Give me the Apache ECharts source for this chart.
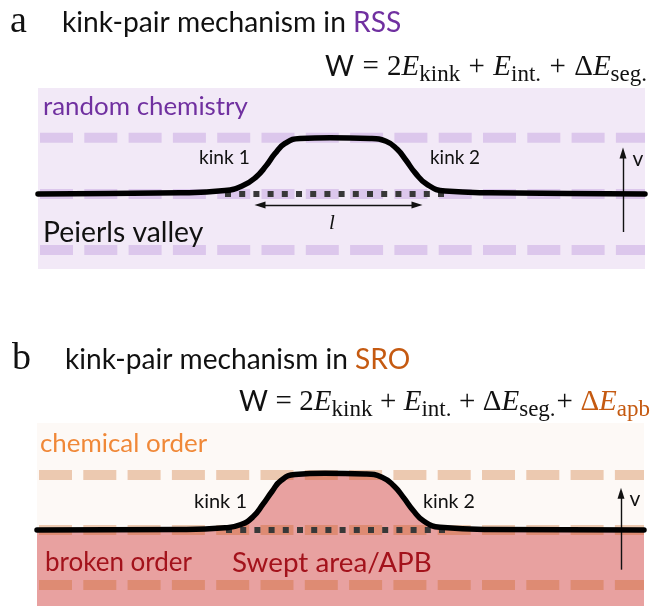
<!DOCTYPE html>
<html>
<head>
<meta charset="utf-8">
<script src="https://cdn.jsdelivr.net/npm/echarts@6/dist/echarts.min.js"></script>
<style>
  html, body { margin: 0; padding: 0; background: #fff; }
  #chart { width: 653px; height: 607px; }
</style>
</head>
<body>
<div id="chart"></div>
<script>
// dislocation line: position along the line, height in Peierls-valley units (0 = valley, 1 = next valley)
var kinkXa = [38, 180, 225, 243, 256, 266, 275, 285, 300, 330, 370, 386, 397, 406, 415, 427, 445, 490, 645];
var kinkYa = [0, 0.02, 0.06, 0.15, 0.3, 0.5, 0.72, 0.9, 0.99, 1.0, 0.99, 0.94, 0.8, 0.6, 0.38, 0.17, 0.05, 0.02, 0];
var kinkXb = [37, 180, 225, 241, 253, 263, 272, 281, 295, 325, 365, 382, 394, 404, 413, 424, 440, 490, 644];
var kinkYb = [0, 0.01, 0.04, 0.1, 0.24, 0.47, 0.7, 0.9, 1.01, 1.03, 1.02, 0.96, 0.8, 0.58, 0.36, 0.16, 0.05, 0.01, 0];
var valleys = [1, 0, -1];
var dotsA = [225, 447];
var dotsB = [226, 445];
var lenA = [260, 417, -0.2];     // kink separation l
var velA = [623, -0.68, 0.73];   // v arrow
var velB = [621, -0.72, 0.67];

var SANS = 'Lato', SERIF = 'Liberation Serif', LETTER = 'Liberation Serif';
var ctx = document.createElement('canvas').getContext('2d');
function measure(t, size, fam, ital) {
  ctx.font = (ital ? 'italic ' : '') + size + 'px ' + fam;
  return ctx.measureText(t).width;
}
function fit(t, fam, w, ital) {
  return Math.round(1000 * w / measure(t, 100, fam, ital)) / 10;
}
function txt(t, x, y, w, color, fam) {
  fam = fam || SANS;
  return { type: 'text', x: x, y: y, z: 10, silent: true,
    style: { text: t, fill: color || '#111', fontFamily: fam, fontSize: fit(t, fam, w), verticalAlign: 'middle' } };
}

// W = 2E_kink + ... as rich text, operators padded to fill the measured width
function formula(parts, right, y, width, F) {
  var S = Math.round(F * 0.78);
  var base = {
    w: { fontFamily: SANS, fontSize: F - 1, fill: '#111' },
    m: { fontFamily: SERIF, fontSize: F, fill: '#111' },
    e: { fontFamily: SERIF, fontSize: F, fill: '#111', fontStyle: 'italic' },
    s: { fontFamily: SERIF, fontSize: S, fill: '#111', lineHeight: 20, padding: [15, 0, 0, 0] },
    op: { fontFamily: SERIF, fontSize: F, fill: '#111' },
    opt: { fontFamily: SERIF, fontSize: F, fill: '#111' },
    om: { fontFamily: SERIF, fontSize: F, fill: '#c55a11' },
    oe: { fontFamily: SERIF, fontSize: F, fill: '#c55a11', fontStyle: 'italic' },
    os: { fontFamily: SERIF, fontSize: S, fill: '#c55a11', lineHeight: 20, padding: [15, 0, 0, 0] }
  };
  var sum = 0, units = 0, str = '';
  parts.forEach(function (p) {
    var st = base[p[1]];
    sum += measure(p[0], st.fontSize, st.fontFamily, st.fontStyle);
    units += p[1] === 'op' ? 2 : p[1] === 'opt' ? 1 : 0;
    str += '{' + p[1] + '|' + p[0] + '}';
  });
  var pad = Math.max(2, (width - sum) / units);
  base.op.padding = [0, pad, 0, pad];
  base.opt.padding = [0, pad, 0, 1];
  Object.keys(base).forEach(function (k) { if (!base[k].lineHeight) base[k].lineHeight = 38; });
  return { type: 'text', x: right, y: y, z: 10, silent: true,
    style: { text: str, align: 'right', verticalAlign: 'middle', rich: base } };
}

var partsA = [['W', 'w'], ['=', 'op'], ['2', 'm'], ['E', 'e'], ['kink', 's'], ['+', 'op'], ['E', 'e'], ['int.', 's'],
  ['+', 'op'], ['Δ', 'm'], ['E', 'e'], ['seg.', 's']];
var partsB = partsA.concat([['+', 'opt'], ['Δ', 'om'], ['E', 'oe'], ['apb', 'os']]);

function pts(xs, ys) { return xs.map(function (x, i) { return [x, ys[i]]; }); }
function row(g, y, x0, x1, color, z) {
  return { type: 'line', xAxisIndex: g, yAxisIndex: g, data: [[x0, y], [x1, y]], symbol: 'none', silent: true, z: z,
    lineStyle: { color: color, width: 10, type: [33, 11.3], cap: 'butt' } };
}
function curve(g, xs, ys) {
  return { type: 'line', xAxisIndex: g, yAxisIndex: g, data: pts(xs, ys), smooth: 0.5,
    symbol: 'none', silent: true, z: 6, lineStyle: { color: '#000', width: 5.5, cap: 'round', join: 'round' } };
}
function dots(g, d, vel, extra) {
  var ml = [[{ coord: [vel[0], vel[1]], symbol: 'none' }, { coord: [vel[0], vel[2]] }]].concat(extra || []);
  return { type: 'line', xAxisIndex: g, yAxisIndex: g, data: [[d[0], 0], [d[1], 0]], symbol: 'none', silent: true, z: 5,
    lineStyle: { color: '#383838', width: 6, type: [6, 8.2], cap: 'butt' },
    markLine: { silent: true, symbol: ['triangle', 'triangle'], symbolSize: [7, 11], label: { show: false },
      lineStyle: { color: '#111', width: 1.4, type: 'solid' }, data: ml } };
}

var series = [];
valleys.forEach(function (v) { series.push(row(0, v, 40, 645, '#dcc7ec', 3)); });
series.push(curve(0, kinkXa, kinkYa));
series.push(dots(0, dotsA, velA, [[{ coord: [lenA[0], lenA[2]] }, { coord: [lenA[1], lenA[2]] }]]));
// swept (APB) area in b: everything below the line
series.push({ type: 'line', xAxisIndex: 1, yAxisIndex: 1, data: pts(kinkXb, kinkYb), smooth: 0.5,
  symbol: 'none', silent: true, z: 2, lineStyle: { width: 0 }, areaStyle: { color: '#e8a1a0', opacity: 1, origin: 'start' } });
valleys.forEach(function (v) { series.push(row(1, v, 39, 644, 'rgba(200,89,13,0.3)', 3)); });
series.push(curve(1, kinkXb, kinkYb));
series.push(dots(1, dotsB, velB));

var chart = echarts.init(document.getElementById('chart'));
chart.setOption({
  animation: false,
  grid: [
    { left: 38, top: 88, width: 607, height: 181, show: true, backgroundColor: '#f2e9f7', borderWidth: 0 },
    { left: 37, top: 423, width: 607, height: 183, show: true, backgroundColor: '#fdf9f6', borderWidth: 0 }
  ],
  xAxis: [
    { gridIndex: 0, type: 'value', min: 38, max: 645, show: false },
    { gridIndex: 1, type: 'value', min: 37, max: 644, show: false }
  ],
  yAxis: [
    { gridIndex: 0, type: 'value', min: -1.34, max: 1.89, show: false },
    { gridIndex: 1, type: 'value', min: -1.38, max: 1.945, show: false }
  ],
  series: series,
  graphic: [
    { type: 'text', x: 10, y: 22, z: 10, silent: true, style: { text: 'a', fontFamily: LETTER, fontSize: 38, fill: '#111', verticalAlign: 'middle' } },
    { type: 'text', x: 62, y: 23, z: 10, silent: true, style: { text: 'kink-pair mechanism in {p|RSS}', fontFamily: SANS,
      fontSize: fit('kink-pair mechanism in RSS', SANS, 340), fill: '#111', verticalAlign: 'middle',
      rich: { p: { fill: '#7030a0', fontFamily: SANS, fontSize: fit('kink-pair mechanism in RSS', SANS, 340) } } } },
    formula(partsA, 647, 67, 322, 29),
    txt('random chemistry', 43, 107, 205, '#7030a0'),
    txt('kink 1', 199, 158, 51),
    txt('kink 2', 430, 158, 50),
    txt('Peierls valley', 43, 233, 160),
    { type: 'text', x: 332, y: 223, z: 10, silent: true, style: { text: 'l', fontFamily: SERIF, fontStyle: 'italic', fontSize: 21, fill: '#111', align: 'center', verticalAlign: 'middle' } },
    { type: 'text', x: 638, y: 159, z: 10, silent: true, style: { text: 'v', fontFamily: SANS, fontSize: 21, fill: '#111', align: 'center', verticalAlign: 'middle' } },

    { type: 'text', x: 12, y: 359, z: 10, silent: true, style: { text: 'b', fontFamily: LETTER, fontSize: 38, fill: '#111', verticalAlign: 'middle' } },
    { type: 'text', x: 65, y: 360, z: 10, silent: true, style: { text: 'kink-pair mechanism in {p|SRO}', fontFamily: SANS,
      fontSize: fit('kink-pair mechanism in SRO', SANS, 345), fill: '#111', verticalAlign: 'middle',
      rich: { p: { fill: '#c55a11', fontFamily: SANS, fontSize: fit('kink-pair mechanism in SRO', SANS, 345) } } } },
    formula(partsB, 650, 402, 410, 29),
    txt('chemical order', 40, 444, 167, '#f08838'),
    txt('kink 1', 194, 502, 53),
    txt('kink 2', 423, 502, 52),
    txt('broken order', 45, 563, 147, '#a3121b'),
    txt('Swept area/APB', 232, 563, 200, '#a3121b'),
    { type: 'text', x: 635, y: 499, z: 10, silent: true, style: { text: 'v', fontFamily: SANS, fontSize: 21, fill: '#111', align: 'center', verticalAlign: 'middle' } }
  ]
});
</script>
</body>
</html>
